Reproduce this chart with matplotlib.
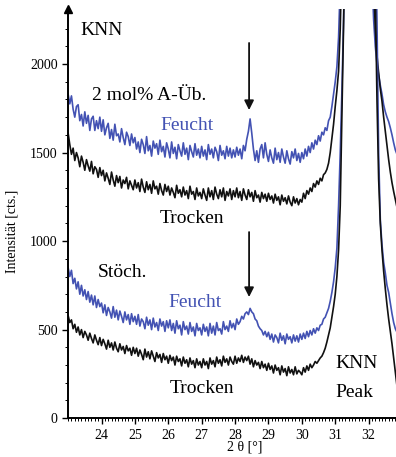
import numpy as np
import matplotlib
matplotlib.use("Agg")
import matplotlib.pyplot as plt
from matplotlib.ticker import MultipleLocator

plt.rcParams['font.family'] = ['Liberation Serif', 'DejaVu Serif']

# 2-theta sampling grid (deg): 23.00, 23.05, ... 32.85  (198 steps)
two_theta = np.linspace(23.0, 32.85, 198)

# one row = one degree (20 steps); the KNN peak top is off scale
feucht_2mol = (
    [1830, 1775, 1820, 1745, 1700, 1760, 1770, 1680, 1715, 1650, 1730, 1665, 1710, 1625, 1690, 1705, 1625, 1680, 1635, 1700] +
    [1620, 1685, 1600, 1640, 1665, 1580, 1630, 1570, 1660, 1595, 1605, 1560, 1635, 1585, 1545, 1615, 1590, 1540, 1605, 1555] +
    [1585, 1520, 1560, 1500, 1575, 1545, 1495, 1590, 1510, 1540, 1480, 1565, 1525, 1550, 1490, 1570, 1505, 1535, 1475, 1555] +
    [1520, 1470, 1560, 1495, 1530, 1465, 1545, 1510, 1480, 1555, 1490, 1525, 1460, 1540, 1505, 1475, 1550, 1485, 1520, 1470] +
    [1535, 1480, 1515, 1460, 1545, 1490, 1520, 1470, 1530, 1505, 1455, 1540, 1485, 1510, 1465, 1535, 1480, 1525, 1470, 1515] +
    [1475, 1530, 1485, 1520, 1465, 1540, 1510, 1575, 1620, 1690, 1610, 1520, 1455, 1510, 1445, 1520, 1545, 1470, 1555, 1490] +
    [1450, 1515, 1470, 1440, 1525, 1460, 1500, 1445, 1520, 1475, 1440, 1510, 1465, 1435, 1505, 1470, 1520, 1455, 1495, 1445] +
    [1500, 1465, 1520, 1480, 1535, 1500, 1555, 1520, 1570, 1545, 1595, 1565, 1615, 1600, 1640, 1625, 1680, 1700, 1760, 1830] +
    [1900, 1985, 2150, 2450, 2900] + [3600] * 15 +
    [3600, 3000, 2500, 2250, 2100, 2000, 1940, 1880, 1830, 1770, 1730, 1700, 1675, 1640, 1600, 1555, 1515, 1490]
)

trocken_2mol = (
    [1610, 1545, 1490, 1525, 1455, 1500, 1470, 1420, 1480, 1445, 1400, 1460, 1425, 1395, 1450, 1380, 1420, 1405, 1360, 1415] +
    [1370, 1400, 1340, 1385, 1355, 1320, 1390, 1345, 1310, 1370, 1330, 1365, 1300, 1345, 1325, 1360, 1295, 1340, 1315, 1290] +
    [1345, 1300, 1330, 1280, 1350, 1305, 1275, 1335, 1290, 1320, 1270, 1340, 1295, 1310, 1265, 1325, 1285, 1260, 1320, 1280] +
    [1310, 1260, 1300, 1275, 1245, 1315, 1270, 1290, 1250, 1305, 1260, 1285, 1240, 1310, 1265, 1280, 1235, 1300, 1255, 1275] +
    [1240, 1295, 1260, 1230, 1300, 1250, 1285, 1235, 1305, 1265, 1240, 1290, 1250, 1300, 1230, 1280, 1255, 1295, 1235, 1285] +
    [1250, 1300, 1245, 1280, 1230, 1295, 1260, 1235, 1290, 1250, 1275, 1225, 1285, 1245, 1260, 1220, 1275, 1240, 1265, 1225] +
    [1270, 1235, 1255, 1215, 1265, 1230, 1250, 1205, 1260, 1225, 1245, 1210, 1255, 1220, 1200, 1250, 1215, 1240, 1205, 1235] +
    [1220, 1270, 1240, 1285, 1265, 1300, 1280, 1325, 1305, 1340, 1320, 1355, 1340, 1375, 1385, 1405, 1440, 1500, 1580, 1660] +
    [1760, 1850, 1960, 2200, 2600, 3100] + [3600] * 14 +
    [3600, 3200, 2800, 2450, 2200, 2050, 1950, 1860, 1790, 1700, 1620, 1540, 1460, 1390, 1330, 1280, 1235, 1190]
)

feucht_stoech = (
    [850, 800, 835, 760, 790, 730, 770, 700, 750, 690, 725, 670, 715, 655, 695, 640, 690, 625, 670, 630] +
    [650, 595, 640, 580, 625, 600, 565, 630, 570, 610, 555, 605, 575, 540, 600, 555, 585, 530, 590, 545] +
    [575, 530, 585, 520, 560, 545, 505, 570, 525, 555, 500, 565, 515, 540, 495, 560, 520, 545, 490, 550] +
    [510, 555, 495, 535, 480, 550, 505, 525, 470, 545, 500, 520, 475, 540, 490, 515, 465, 535, 495, 510] +
    [470, 530, 490, 515, 465, 535, 480, 520, 470, 540, 495, 505, 475, 545, 500, 520, 490, 550, 510, 535] +
    [500, 560, 530, 545, 575, 560, 590, 600, 585, 620, 600, 590, 560, 550, 520, 505, 495, 470, 490, 460] +
    [485, 445, 475, 430, 470, 455, 425, 480, 440, 465, 420, 475, 445, 460, 425, 470, 435, 465, 430, 475] +
    [445, 480, 450, 490, 460, 495, 470, 505, 480, 510, 495, 525, 530, 560, 570, 595, 620, 660, 710, 770] +
    [850, 960, 1200, 1500, 1850, 2250, 2800] + [3600] * 13 +
    [3600, 3600, 3400, 3100, 2800, 2250, 1500, 1120, 980, 880, 820, 750, 710, 650, 590, 540, 505, 485]
)

trocken_stoech = (
    [580, 540, 555, 505, 530, 485, 515, 470, 500, 455, 490, 470, 440, 480, 450, 425, 470, 440, 415, 455] +
    [410, 445, 420, 390, 440, 400, 425, 385, 430, 395, 375, 420, 385, 405, 365, 410, 380, 395, 355, 400] +
    [365, 395, 350, 385, 360, 330, 390, 345, 375, 335, 380, 350, 320, 370, 340, 360, 315, 365, 330, 350] +
    [310, 355, 325, 345, 300, 350, 320, 335, 295, 345, 310, 330, 290, 340, 305, 325, 285, 335, 300, 320] +
    [285, 335, 300, 320, 280, 340, 305, 325, 290, 345, 310, 330, 295, 350, 315, 335, 300, 345, 320, 305] +
    [350, 310, 340, 320, 355, 315, 345, 325, 350, 305, 335, 290, 325, 300, 315, 280, 320, 285, 305, 270] +
    [310, 275, 295, 255, 300, 270, 285, 245, 295, 260, 280, 240, 290, 255, 275, 245, 290, 250, 270, 260] +
    [245, 285, 260, 295, 270, 305, 285, 300, 320, 310, 325, 340, 350, 370, 395, 430, 470, 510, 570, 630] +
    [700, 800, 950, 1200, 1700, 2200, 2800] + [3600] * 13 +
    [3600, 3600, 3300, 2900, 2400, 1800, 1350, 1100, 950, 830, 730, 640, 560, 490, 420, 340, 260, 180]
)

blue = '#4352b3'
black = '#111111'

fig = plt.figure(figsize=(3.96, 4.57), dpi=100)
ax = fig.add_axes([0.172, 0.085, 0.828, 0.895])

for ys, c in [(feucht_2mol, blue), (trocken_2mol, black),
              (feucht_stoech, blue), (trocken_stoech, black)]:
    ax.plot(two_theta, ys, color=c, lw=1.2)

ax.set_xlim(23.0, 32.82)
ax.set_ylim(0, 2310)

ax.spines['top'].set_visible(False)
ax.spines['right'].set_visible(False)
ax.spines['left'].set_linewidth(1.4)
ax.spines['bottom'].set_linewidth(1.4)
ax.plot(0, 1, marker='^', color='black', markersize=6,
        transform=ax.transAxes, clip_on=False)

ax.set_xticks(range(24, 33))
ax.xaxis.set_minor_locator(MultipleLocator(0.1))
ax.yaxis.set_major_locator(MultipleLocator(500))
ax.yaxis.set_minor_locator(MultipleLocator(100))
ax.tick_params(which='major', length=4, width=1, labelsize=10, direction='out')
ax.tick_params(which='minor', length=2, width=0.7, direction='out')

ax.set_ylabel('Intensität [cts.]', fontsize=10)
ax.yaxis.set_label_coords(-0.15, 0.457)
ax.set_xlabel('2 θ [°]', fontsize=10)
ax.xaxis.set_label_coords(0.54, -0.055)

fs = 14
ax.text(23.36, 2192, 'KNN', fontsize=fs, va='center')
ax.text(23.72, 1825, '2 mol% A-Üb.', fontsize=fs, va='center')
ax.text(25.75, 1655, 'Feucht', fontsize=fs, va='center', color=blue)
ax.text(25.75, 1130, 'Trocken', fontsize=fs, va='center')
ax.text(23.9, 825, 'Stöch.', fontsize=fs, va='center')
ax.text(26.0, 655, 'Feucht', fontsize=fs, va='center', color=blue)
ax.text(26.05, 170, 'Trocken', fontsize=fs, va='center')
ax.text(30.99, 310, 'KNN', fontsize=fs, va='center')
ax.text(30.99, 147, 'Peak', fontsize=fs, va='center')

for tail, head in [(2119, 1740), (1051, 684)]:
    ax.annotate('', xy=(28.42, head), xytext=(28.42, tail),
                arrowprops=dict(arrowstyle='-|>', color=black, lw=1.3,
                                mutation_scale=14, shrinkA=0, shrinkB=0))

fig.savefig('out.png', dpi=100)
